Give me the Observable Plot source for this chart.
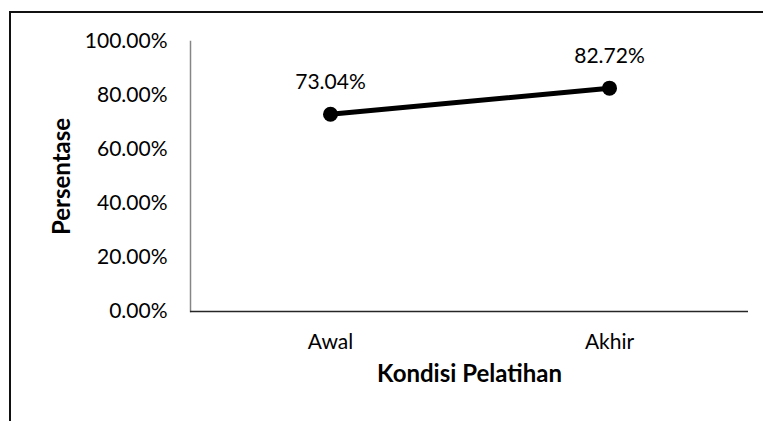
<!DOCTYPE html>
<html><head><meta charset="utf-8">
<script src="https://cdn.jsdelivr.net/npm/d3@7"></script>
<script src="https://cdn.jsdelivr.net/npm/@observablehq/plot@0.6"></script>
<style>body{margin:0;background:#fff;} #chart svg{display:block;}</style>
</head><body><div id="chart"></div>
<script>
const categories = ["Awal", "Akhir"];
const values = [0.7304, 0.8272];
const yTicks = [0, 0.2, 0.4, 0.6, 0.8, 1.0];
const xTitle = "Kondisi Pelatihan";
const yTitle = "Persentase";

const data = categories.map((c, i) => ({kondisi: c, nilai: values[i]}));
const pct = d3.format(".2%");
const font = "Lato, 'Open Sans', sans-serif";

const chart = Plot.plot({
  width: 763, height: 421,
  marginLeft: 190, marginRight: 15, marginTop: 41, marginBottom: 110,
  style: {fontFamily: font, fontSize: "20.5px", color: "#000", background: "#fff", overflow: "visible"},
  x: {type: "point", domain: categories, padding: 0.5, axis: null},
  y: {domain: [0, 1], axis: null},
  marks: [
    Plot.frame({anchor: "left", stroke: "#868686", strokeWidth: 1.5}),
    Plot.ruleY([0], {stroke: "#262626", strokeWidth: 1.5}),
    Plot.axisY(yTicks, {tickSize: 0, tickPadding: 23, tickFormat: pct, label: null, fontSize: 21}),
    Plot.axisX({tickSize: 0, tickPadding: 23, label: null, fontSize: 21}),
    Plot.line(data, {x: "kondisi", y: "nilai", stroke: "#000", strokeWidth: 5}),
    Plot.dot(data, {x: "kondisi", y: "nilai", r: 7.5, fill: "#000", stroke: "none"}),
    Plot.text(data, {x: "kondisi", y: "nilai", text: d => pct(d.nilai), dy: -32, fontSize: 21}),
    Plot.text([xTitle], {frameAnchor: "bottom", dy: 70, fontWeight: "bold", fontSize: 24, textAnchor: "middle"}),
    Plot.text([yTitle], {frameAnchor: "left", dx: -128, rotate: -90, fontWeight: "bold", fontSize: 24, textAnchor: "middle"})
  ]
});
d3.select(chart).append("path")
  .attr("d", "M10,421V12H763")
  .attr("fill", "none")
  .attr("stroke", "#111")
  .attr("stroke-width", 2);
document.getElementById("chart").append(chart);
</script>
</body></html>
